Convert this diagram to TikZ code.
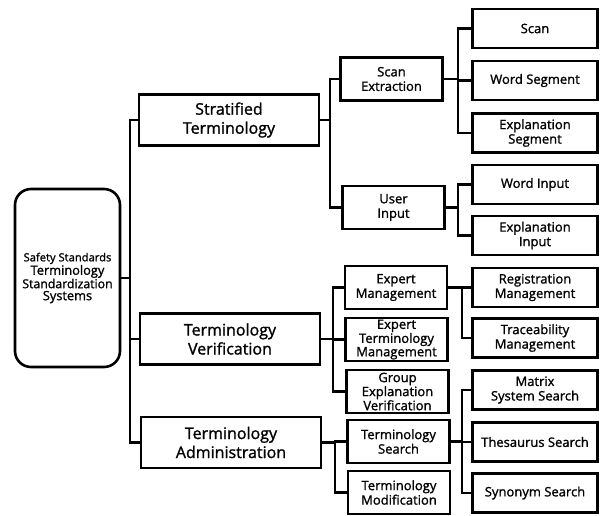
\documentclass[tikz,border=0pt]{standalone}
\usepackage{fontspec}
\setmainfont{Open Sans}[FakeBold=1.3]
\begin{document}
\begin{tikzpicture}[x=1pt,y=-1pt,line width=2.6pt,
	rootbox/.style={draw,rounded corners=16pt,minimum width=105pt,minimum height=178pt,align=center,inner sep=0pt},
	topbox/.style={draw,minimum width=180pt,minimum height=51pt,align=center,inner sep=0pt,font=\fontsize{16}{19}\selectfont},
	midbox/.style={draw,minimum width=102pt,minimum height=43pt,align=center,inner sep=0pt,font=\fontsize{13}{14.5}\selectfont},
	leafbox/.style={draw,minimum width=125pt,minimum height=39pt,align=center,inner sep=0pt,font=\fontsize{13}{14.5}\selectfont},
	tight/.style={font=\fontsize{13}{10.5}\selectfont}]
	\useasboundingbox (0,0) rectangle (600,515);
	\node[rootbox] (root) at (67.5,278){\fontsize{11.2}{14}\selectfont Safety Standards\\\fontsize{12.8}{14}\selectfont Terminology\\\fontsize{12.3}{14}\selectfont Standardization\\\fontsize{12.8}{14}\selectfont Systems};
	\node[topbox] (strat) at (229,120){Stratified\\Terminology};
	\node[topbox] (verif) at (230,339){Terminology\\Verification};
	\node[topbox] (admin) at (231,442.5){Terminology\\Administration};
	\node[midbox] (scanx) at (391.5,79){Scan\\Extraction};
	\node[midbox] (userin) at (393.5,207.5){User\\Input};
	\node[midbox] (expm) at (396,287.5){Expert\\Management};
	\node[midbox,tight] (exptm) at (396.5,339.5){Expert\\Terminology\\Management};
	\node[midbox,tight] (grpev) at (397.5,391.5){Group\\Explanation\\Verification};
	\node[midbox] (tsearch) at (398.5,441.5){Terminology\\Search};
	\node[midbox] (tmod) at (399,492.5){Terminology\\Modification};
	\node[leafbox] (scan) at (535,28.5){Scan};
	\node[leafbox] (wseg) at (535,80.5){Word Segment};
	\node[leafbox] (eseg) at (535,133){Explanation\\Segment};
	\node[leafbox] (winput) at (535,184.5){Word Input};
	\node[leafbox] (einput) at (535,235.5){Explanation\\Input};
	\node[leafbox] (regm) at (535,287.5){Registration\\Management};
	\node[leafbox] (tracem) at (535,338){Traceability\\Management};
	\node[leafbox] (matrix) at (535,390){Matrix\\System Search};
	\node[leafbox] (thes) at (535,442){Thesaurus Search};
	\node[leafbox] (syn) at (535,493){Synonym Search};
	\coordinate (broot) at (130,0);
	\coordinate (bstrat) at (330,0);
	\coordinate (bverif) at (333,0);
	\coordinate (badmin) at (335,0);
	\coordinate (bscanx) at (458,0);
	\coordinate (buser) at (458,0);
	\coordinate (bexpm) at (462,0);
	\coordinate (bsearch) at (462,0);
	\foreach \c in {strat,verif,admin} \draw (\c.west) -- (\c.west -| broot) |- (root.east);
	\foreach \c in {scanx,userin} \draw (\c.west) -- (\c.west -| bstrat) |- (strat.east);
	\foreach \c in {expm,exptm,grpev} \draw (\c.west) -- (\c.west -| bverif) |- (verif.east);
	\foreach \c in {tsearch,tmod} \draw (\c.west) -- (\c.west -| badmin) |- (admin.east);
	\foreach \c in {scan,wseg,eseg} \draw (\c.west) -- (\c.west -| bscanx) |- (scanx.east);
	\foreach \c in {winput,einput} \draw (\c.west) -- (\c.west -| buser) |- (userin.east);
	\foreach \c in {regm,tracem} \draw (\c.west) -- (\c.west -| bexpm) |- (expm.east);
	\foreach \c in {matrix,thes,syn} \draw (\c.west) -- (\c.west -| bsearch) |- (tsearch.east);
\end{tikzpicture}
\end{document}
